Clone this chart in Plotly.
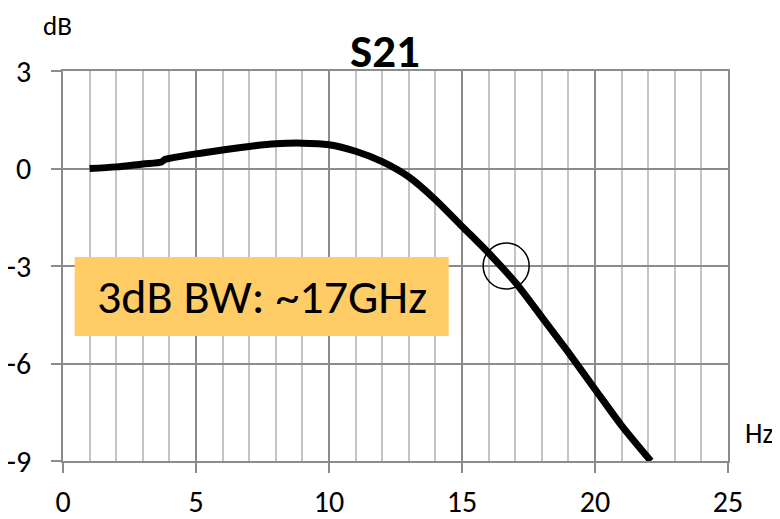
import plotly.graph_objects as go

# Frequency (GHz) and S21 magnitude (dB)
freq = [1.0, 2.0, 3.0, 3.7, 3.83, 4.0, 5.0, 6.0, 7.0, 8.0, 9.0, 10.0,
        11.0, 12.0, 13.0, 14.0, 15.0, 16.0, 17.0, 18.0, 19.0, 20.0, 21.0, 22.1]
s21_db = [0.0, 0.05, 0.14, 0.2, 0.28, 0.31, 0.45, 0.57, 0.68, 0.76, 0.78, 0.73,
          0.53, 0.21, -0.26, -0.96, -1.78, -2.6, -3.5, -4.57, -5.66, -6.79, -7.91, -9.0]

bw_freq = [16.66]
bw_level = [-3.0]

x_ticks = [0, 5, 10, 15, 20, 25]
y_ticks = [3, 0, -3, -6, -9]

title_text = "S21"
note_text = "3dB BW: ~17GHz"
y_unit = "dB"
x_unit = "Hz"

FONT = "Carlito, Lato, sans-serif"

fig = go.Figure()
fig.add_trace(go.Scatter(
    x=freq, y=s21_db, mode="lines",
    line=dict(color="black", width=7, shape="spline", smoothing=0.8),
    hoverinfo="skip", showlegend=False,
))
fig.add_trace(go.Scatter(
    x=bw_freq, y=bw_level, mode="markers",
    marker=dict(symbol="circle-open", size=46, color="black", line=dict(width=1.5, color="black")),
    showlegend=False,
))

# highlighted note box
fig.add_shape(type="rect", xref="x", yref="y", x0=0.44, x1=14.5, y0=-5.15, y1=-2.72,
              fillcolor="#FFCC66", line=dict(width=0), layer="above")
fig.add_annotation(x=7.47, y=-3.93, xref="x", yref="y", text=note_text, showarrow=False,
                   font=dict(family=FONT, size=48, color="black"))

fig.add_annotation(x=0.484, y=1.05, xref="paper", yref="paper", text="<b>%s</b>" % title_text,
                   showarrow=False, font=dict(family=FONT, size=47, color="black"),
                   xanchor="center", yanchor="middle")
fig.add_annotation(x=-0.008, y=1.116, xref="paper", yref="paper", text=y_unit,
                   showarrow=False, font=dict(family=FONT, size=27, color="black"),
                   xanchor="center", yanchor="middle")
fig.add_annotation(x=1.047, y=0.071, xref="paper", yref="paper", text=x_unit,
                   showarrow=False, font=dict(family=FONT, size=28, color="black"),
                   xanchor="center", yanchor="middle")

fig.update_layout(
    width=780, height=519,
    margin=dict(l=55, r=60, t=63, b=66, autoexpand=False),
    paper_bgcolor="white", plot_bgcolor="white",
    font=dict(family=FONT, size=30, color="black"),
    showlegend=False,
)
fig.update_xaxes(
    range=[0, 25], tickvals=x_ticks, ticktext=[str(v) for v in x_ticks],
    showgrid=True, gridcolor="#8c8c8c", gridwidth=1.5,
    minor=dict(dtick=1, showgrid=True, gridcolor="#c4c4c4", gridwidth=1.5),
    showline=True, linecolor="#8c8c8c", linewidth=1.5, mirror=True,
    ticks="outside", ticklen=10, tickcolor="#8c8c8c", tickwidth=1.5,
    ticklabelstandoff=3, zeroline=False,
)
fig.update_yaxes(
    range=[-9, 3], tickvals=y_ticks, ticktext=[str(v) for v in y_ticks],
    showgrid=True, gridcolor="#8c8c8c", gridwidth=1.5,
    showline=True, linecolor="#8c8c8c", linewidth=1.5, mirror=True,
    ticks="outside", ticklen=10, tickcolor="#8c8c8c", tickwidth=1.5,
    ticklabelstandoff=14, zeroline=False,
)

fig.write_html("out.html")
